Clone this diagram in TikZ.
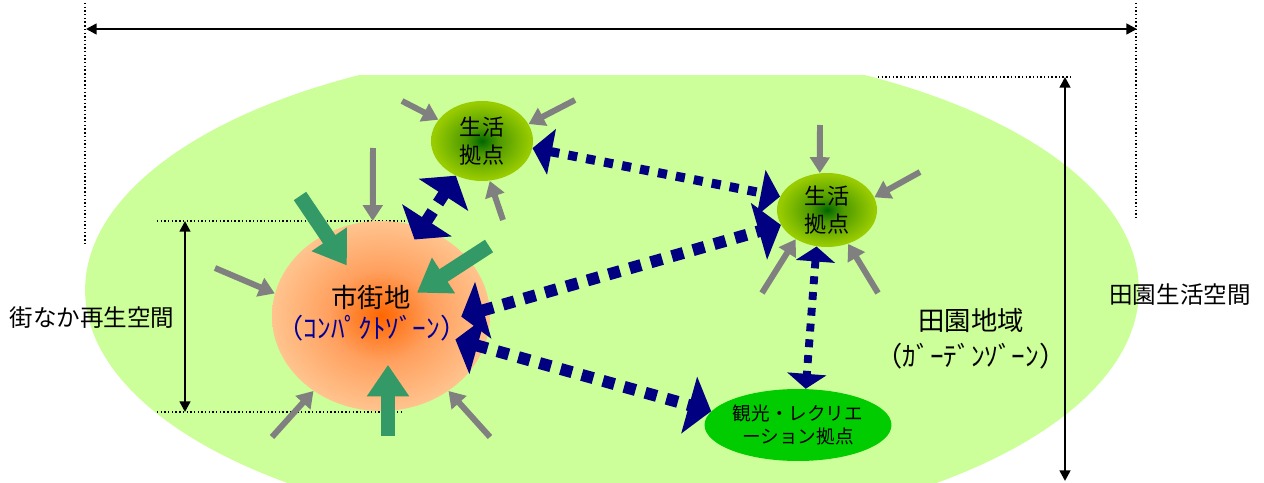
\documentclass[tikz,border=0pt]{standalone}
\usepackage{fontspec}
\setmainfont{Noto Sans CJK JP}
\usetikzlibrary{positioning, shapes.geometric, arrows.meta}

\definecolor{fieldgreen}{RGB}{204,255,153}
\definecolor{citypeach}{RGB}{255,204,153}
\definecolor{citymid}{RGB}{255,160,95}
\definecolor{cityorange}{RGB}{255,102,0}
\definecolor{hubyellow}{RGB}{153,204,0}
\definecolor{hubdark}{RGB}{0,102,0}
\definecolor{resortgreen}{RGB}{0,204,0}
\definecolor{linknavy}{RGB}{0,0,128}
\definecolor{flowgrey}{RGB}{128,128,128}
\definecolor{flowsea}{RGB}{51,153,102}
\definecolor{zoneblue}{RGB}{0,0,153}

\pgfdeclareradialshading{cityglow}{\pgfpoint{0bp}{0bp}}{color(0bp)=(cityorange); color(12bp)=(citymid); color(28bp)=(citypeach); color(50bp)=(citypeach)}
\pgfdeclareradialshading{hubglow}{\pgfpoint{0bp}{0bp}}{color(0bp)=(hubdark); color(8bp)=(hubdark!50!hubyellow); color(24bp)=(hubyellow); color(50bp)=(hubyellow)}

\newcommand\areafont{\fontsize{13.4pt}{16pt}\selectfont}
\newcommand\cityfont{\fontsize{15pt}{18pt}\selectfont}
\newcommand\kanafont{\fontsize{15.5pt}{18pt}\selectfont}
\newcommand\hubfont{\fontsize{12.6pt}{15.5pt}\selectfont}
\newcommand\spotfont{\fontsize{10.6pt}{13pt}\selectfont}

\tikzset{
	zone/.style = {ellipse, inner sep=0pt, align=center},
	cityzone/.style = {zone, shade, shading=cityglow, minimum width=4.36cm, minimum height=3.8cm},
	hubzone/.style = {zone, shade, shading=hubglow, font=\hubfont},
	spotzone/.style = {zone, fill=resortgreen, font=\spotfont},
	guide/.style = {black, line width=0.8pt, dash pattern=on 0.8pt off 1.3pt},
	dimline/.style = {black, line width=1.4pt, {Triangle[length=6pt,width=6pt]}-{Triangle[length=6pt,width=6pt]}},
	greyflow/.style = {flowgrey, line width=3.4pt, -{Triangle[length=9pt,width=11pt]}},
	seaflow/.style = {flowsea, line width=8.5pt, -{Triangle[length=18pt,width=23pt]}},
	navylink/.style = {linknavy, line width=6.8pt, dash pattern=on 6.8pt off 5.7pt, >={Triangle[length=13pt,width=33pt]}, <->}
}

\begin{document}
\begin{tikzpicture}[x=0.02cm, y=-0.02cm, node distance=0pt]
\useasboundingbox (0,0) rectangle (1264,483);

% field
\begin{scope}
	\clip (0,76) rectangle (1264,483);
	\fill [fieldgreen] (612,290) ellipse [x radius=10.54cm, y radius=4.9cm];
\end{scope}

% guides
\draw [guide] (85,3) -- (85,245);
\draw [guide] (1136,3) -- (1136,218);
\draw [guide] (878,77) -- (1073,77);
\draw [guide] (157,221) -- (405,221);
\draw [guide] (157,412) -- (403,412);

% NODES
% city
\node (city) at (381,316) [cityzone] {};
\node (citytitle) at (371,297) [font=\cityfont] {市街地};
\node (cityzone) at (372,328) [font=\kanafont, text=zoneblue] {（ｺﾝﾊﾟｸﾄｿﾞｰﾝ）};
% hubs
\node (hubN) at (482,141) [hubzone, minimum width=2.04cm, minimum height=1.6cm] {生活\\拠点};
\node (hubE) at (827,210) [hubzone, minimum width=2cm, minimum height=1.48cm] {生活\\拠点};
\node (resort) at (798,425) [spotzone, minimum width=3.74cm, minimum height=1.44cm] {観光・レクリエ\\ーション拠点};
% labels
\node (machi) at (92,318) [font=\areafont] {街なか再生空間};
\node (denen) at (1180,295) [font=\areafont] {田園生活空間};
\node (farm) at (971,320) [font=\cityfont] {田園地域};
\node (garden) at (971,356) [font=\kanafont] {（ｶﾞｰﾃﾞﾝｿﾞｰﾝ）};

% ends
\coordinate (spanL) at (86,29);
\coordinate (spanR) at (1137,29);
\coordinate (fieldT) at (1065,77);
\coordinate (fieldB) at (1065,481);
\coordinate (cityT) at (185,221);
\coordinate (cityB) at (185,412);
% grey sources
\coordinate (gN1) at (402,101);
\coordinate (gN2) at (575,100);
\coordinate (gN3) at (503,220);
\coordinate (gC1) at (373,148);
\coordinate (gC2) at (215,268);
\coordinate (gC3) at (272,437);
\coordinate (gC4) at (490,437);
\coordinate (gE1) at (820,125);
\coordinate (gE2) at (920,172);
\coordinate (gE3) at (762,293);
\coordinate (gE4) at (878,293);
% green sources
\coordinate (sC1) at (300,196);
\coordinate (sC2) at (489,246);
\coordinate (sC3) at (388,436);

%CONNECTIONS
\draw [dimline] (spanL) -- (spanR);
\draw [dimline] (fieldT) -- (fieldB);
\draw [dimline] (cityT) -- (cityB);

\draw [greyflow] (gN1) -- (hubN.154);
\draw [greyflow] (gN2) -- (hubN.20);
\draw [greyflow] (gN3) -- (hubN.281);
\draw [greyflow] (gC1) -- (city.95);
\draw [greyflow] (gC2) -- (city.168);
\draw [greyflow] (gC3) -- (city.228);
\draw [greyflow] (gC4) -- (city.312);
\draw [greyflow] (gE1) -- (hubE.101);
\draw [greyflow] (gE2) -- (hubE.15);
\draw [greyflow] (gE3) -- (hubE.223);
\draw [greyflow] (gE4) -- (hubE.302);

\draw [seaflow, shorten >=34.7pt] (sC1) -- (city.center);
\draw [seaflow, shorten >=24.4pt] (sC2) -- (city.center);
\draw [seaflow, shorten >=27.8pt] (sC3) -- (sC3 |- city.center);

\draw [navylink, shorten <=-8pt] (city.65) -- (hubN.233);
\draw [navylink, line width=5.2pt, dash pattern=on 5.2pt off 5.2pt, >={Triangle[length=11pt,width=26pt]}] (hubN.352) -- (hubE.164);
\draw [navylink, shorten <=-17pt] (city.4) -- (hubE.198);
\draw [navylink, shorten <=-17pt] (city.343) -- (resort.171);
\draw [navylink, line width=4.5pt, dash pattern=on 4.5pt off 4.5pt, >={Triangle[length=8.5pt,width=22pt]}] (hubE.254) -- (resort.78);

\end{tikzpicture}
\end{document}
